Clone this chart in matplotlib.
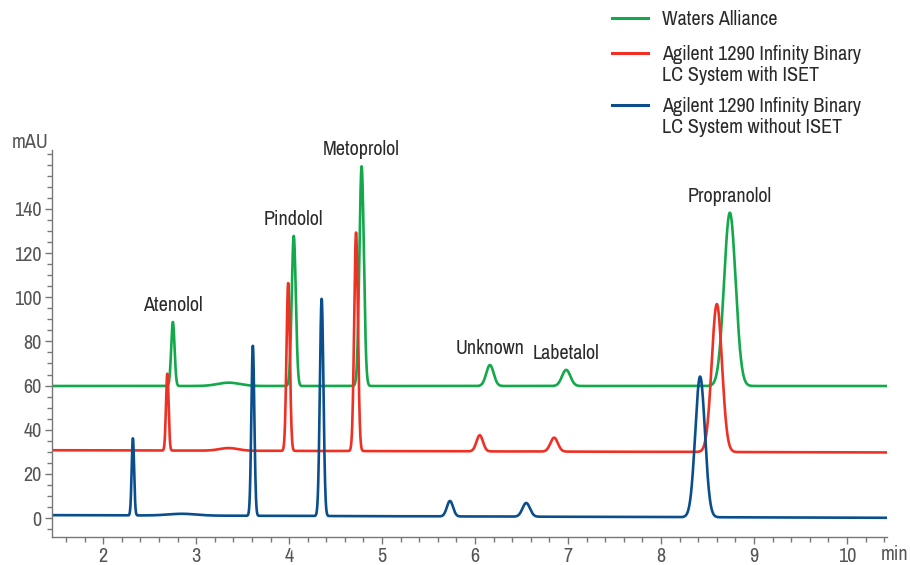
import numpy as np
import matplotlib.pyplot as plt
from matplotlib import font_manager
from matplotlib.lines import Line2D
from matplotlib.ticker import MultipleLocator

# prefer a condensed face if one is installed, the original uses a condensed sans
names = sorted({f.name for f in font_manager.fontManager.ttflist})
narrow = [n for n in names if 'Condensed' in n or 'Narrow' in n]
main_font = narrow[0] if narrow else 'Roboto'
plt.rcParams['font.family'] = [main_font, 'DejaVu Sans']
fs = 14.5 if narrow else 11

# peak tables: retention time (min), height above baseline (mAU), sigma (min)
waters_rt = [2.75, 3.35, 4.05, 4.78, 6.16, 6.98, 8.74]
waters_h = [29.0, 1.5, 68.0, 99.5, 9.5, 7.3, 78.5]
waters_sig = [0.018, 0.12, 0.022, 0.024, 0.04, 0.045, 0.062]
waters_base = [59.8, 59.8]

iset_rt = [2.69, 3.35, 3.99, 4.72, 6.05, 6.85, 8.60]
iset_h = [34.8, 1.2, 76.0, 99.0, 7.3, 6.3, 67.0]
iset_sig = [0.014, 0.1, 0.018, 0.02, 0.035, 0.04, 0.055]
iset_base = [30.7, 29.7]

noiset_rt = [2.32, 2.85, 3.61, 4.35, 5.73, 6.55, 8.42]
noiset_h = [35.0, 0.8, 77.0, 98.5, 7.0, 6.2, 63.7]
noiset_sig = [0.013, 0.15, 0.016, 0.019, 0.033, 0.04, 0.052]
noiset_base = [1.3, 0.1]

peak_names = ['Atenolol', 'Pindolol', 'Metoprolol', 'Unknown', 'Labetalol', 'Propranolol']
peak_idx = [0, 2, 3, 4, 5, 6]

legend_labels = ['Waters Alliance',
                 'Agilent 1290 Infinity Binary\nLC System with ISET',
                 'Agilent 1290 Infinity Binary\nLC System without ISET']
colors = ['#13a94b', '#ee3124', '#0a4f8c']


def trace(t, rt, h, sig, base):
    y = base[0] + (base[1] - base[0]) * (t - t[0]) / (t[-1] - t[0])
    for r, a, s in zip(rt, h, sig):
        y = y + a * np.exp(-0.5 * ((t - r) / s) ** 2)
    return y


t = np.linspace(1.45, 10.43, 4000)
fig = plt.figure(figsize=(9.1, 5.65), dpi=100)
ax = fig.add_axes([52 / 910, 28 / 565, 835 / 910, 387 / 565])

series = [(waters_rt, waters_h, waters_sig, waters_base),
          (iset_rt, iset_h, iset_sig, iset_base),
          (noiset_rt, noiset_h, noiset_sig, noiset_base)]
for (rt, h, sig, base), c in zip(series, colors):
    ax.plot(t, trace(t, rt, h, sig, base), color=c, lw=1.9, solid_capstyle='round')

# compound names above the Waters peaks
for name, i in zip(peak_names, peak_idx):
    top = waters_base[0] + waters_h[i]
    ax.annotate(name, (waters_rt[i], top), xytext=(0, 5), textcoords='offset points',
                ha='center', va='bottom', fontsize=fs, color='#2a2a2a')

ax.set_xlim(1.45, 10.43)
ax.set_ylim(-8.6, 166.7)
ax.xaxis.set_major_locator(MultipleLocator(1))
ax.xaxis.set_minor_locator(MultipleLocator(0.2))
ax.set_yticks(range(0, 141, 20))
ax.yaxis.set_minor_locator(MultipleLocator(5))
for s in ['top', 'right']:
    ax.spines[s].set_visible(False)
for s in ['left', 'bottom']:
    ax.spines[s].set_color('#777777')
    ax.spines[s].set_linewidth(1.0)
ax.tick_params(which='both', direction='out', color='#777777', width=1.0)
ax.tick_params(which='major', length=5, labelsize=fs, labelcolor='#555555', pad=2.5)
ax.tick_params(which='minor', length=3.5)

fig.text(12 / 910, 1 - 143 / 565, 'mAU', fontsize=fs, color='#555555', va='center', ha='left')
fig.text(908 / 910, 1 - 554 / 565, 'min', fontsize=fs, color='#555555', va='center', ha='right')

# legend drawn by hand: the line sits against the first text row
leg_y = [18, 53, 105]
for lab, c, y in zip(legend_labels, colors, leg_y):
    fig.add_artist(Line2D([612 / 910, 648 / 910], [1 - y / 565] * 2, color=c, lw=2.2))
    for k, row in enumerate(lab.split('\n')):
        fig.text(662 / 910, 1 - (y + 7 + 21 * k) / 565, row, fontsize=fs, color='#2a2a2a',
                 va='baseline', ha='left')

fig.savefig('out.png', dpi=100)
